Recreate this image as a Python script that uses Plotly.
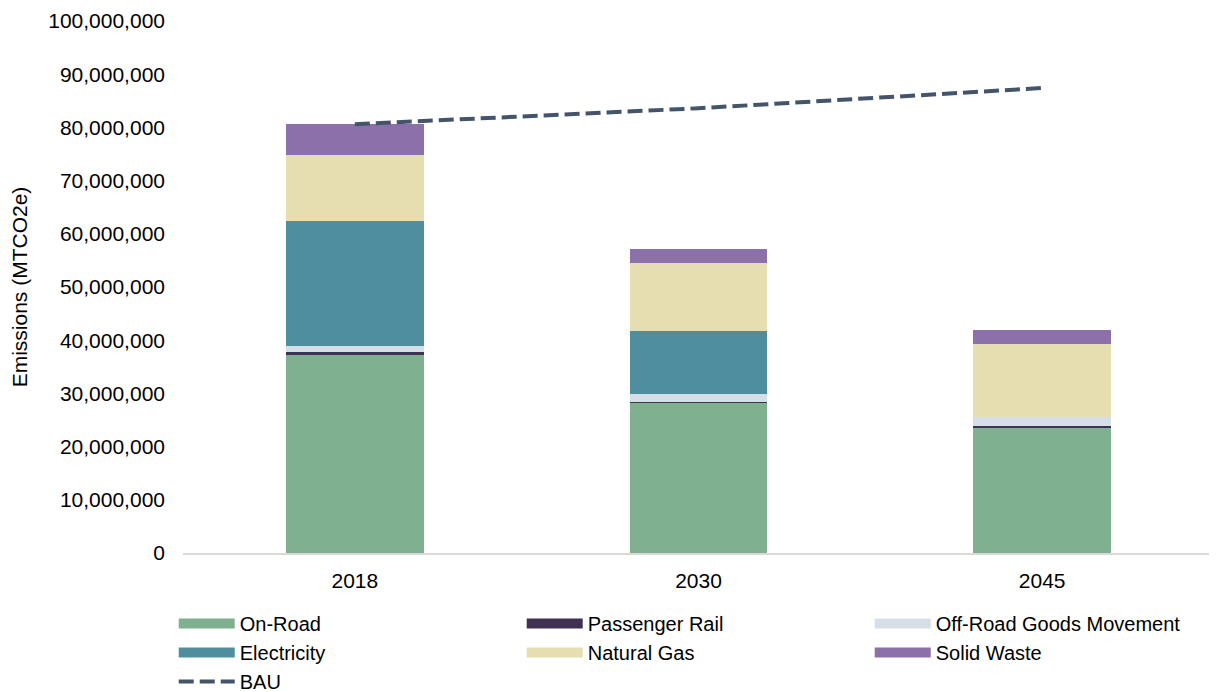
import plotly.graph_objects as go

years = ["2018", "2030", "2045"]
on_road = [37300000, 28200000, 23600000]
passenger_rail = [400000, 100000, 300000]
off_road = [1300000, 1600000, 1600000]
electricity = [23400000, 11800000, 0]
natural_gas = [12500000, 12900000, 13700000]
solid_waste = [5700000, 2500000, 2700000]
bau = [80600000, 83600000, 87400000]

series = [
    ("On-Road", on_road, "#7FB08F"),
    ("Passenger Rail", passenger_rail, "#3F3153"),
    ("Off-Road Goods Movement", off_road, "#D6DEE7"),
    ("Electricity", electricity, "#4F8E9E"),
    ("Natural Gas", natural_gas, "#E6DEB0"),
    ("Solid Waste", solid_waste, "#8B70AA"),
]

fig = go.Figure()
for name, vals, color in series:
    fig.add_trace(go.Bar(x=years, y=vals, name=name, legendgroup=name, showlegend=False,
                         marker=dict(color=color, line=dict(width=0)), width=0.4))
# legend swatches (wide rectangles as in the original legend)
for name, vals, color in series:
    fig.add_trace(go.Scatter(x=[None], y=[None], name=name, legendgroup=name, mode="lines",
                             line=dict(color=color, width=12), hoverinfo="skip"))
fig.add_trace(go.Scatter(x=years, y=bau, name="BAU", mode="lines",
                         line=dict(color="#44546A", width=4, dash="15px,6px")))

font = "Liberation Sans, Arial, sans-serif"
fig.update_layout(
    barmode="stack",
    width=1217, height=692,
    margin=dict(l=175, r=11, t=13, b=147, autoexpand=False),
    plot_bgcolor="white", paper_bgcolor="white",
    font=dict(family=font, size=20, color="#000000"),
    xaxis=dict(showgrid=False, showline=True, linecolor="#D9D9D9", linewidth=1.5,
               ticks="", tickfont=dict(size=21), automargin=False, ticklabelstandoff=8),
    yaxis=dict(range=[0, 100000000], dtick=10000000, tickformat=",d", showgrid=False,
               zeroline=False, showline=False, ticks="", tickfont=dict(size=21),
               automargin=False, ticklabelstandoff=17,
               title=dict(text="Emissions (MTCO2e)", font=dict(size=21), standoff=23)),
    legend=dict(orientation="h", x=-0.009, xanchor="left", y=-0.096, yanchor="top",
                entrywidth=277, itemwidth=56, tracegroupgap=0, font=dict(size=20),
                traceorder="normal"),
    showlegend=True,
)
fig.write_html("out.html")
